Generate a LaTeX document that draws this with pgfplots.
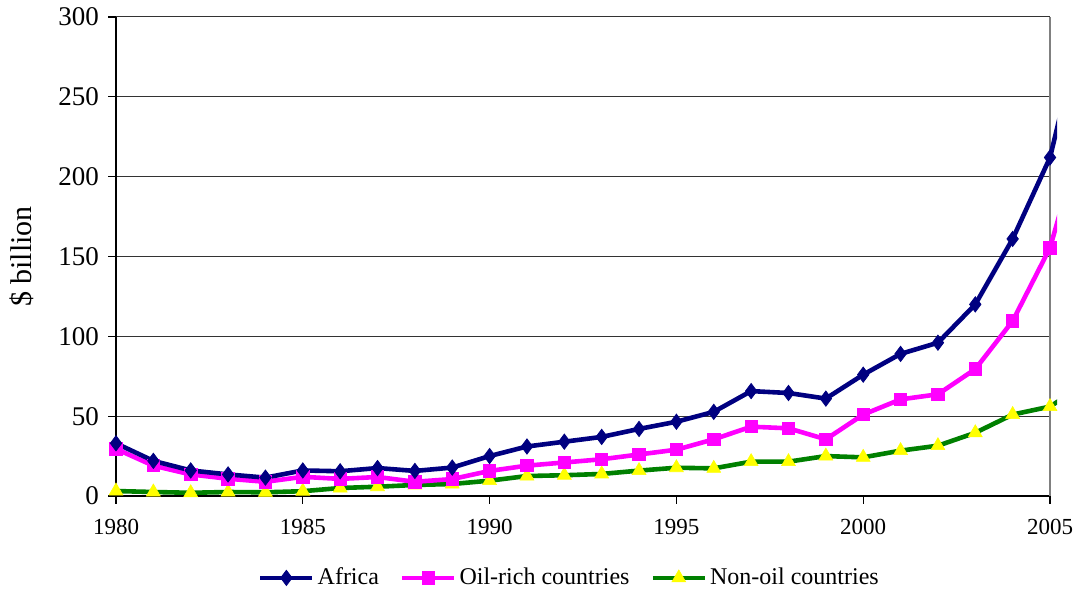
\documentclass[border=0pt]{standalone}
\usepackage{fontspec}
\setmainfont{Liberation Serif}
\usepackage{pgfplots}
\pgfplotsset{compat=1.18}
\usetikzlibrary{calc}
\definecolor{afr}{HTML}{000080}
\definecolor{oil}{HTML}{FF00FF}
\definecolor{non}{HTML}{008000}
\definecolor{tri}{HTML}{FFFF00}
\pgfplotsset{
  afrstyle/.style={color=afr, line width=2.3pt, mark=diamond*, mark size=3.8pt, mark options={solid, line width=0.4pt, fill=afr, draw=afr}},
  oilstyle/.style={color=oil, line width=2.3pt, mark=square*, mark size=3.1pt, mark options={solid, line width=0.4pt, fill=oil, draw=oil}},
  nonstyle/.style={color=non, line width=2.3pt, mark=triangle*, mark size=4pt, mark options={solid, line width=0.3pt, fill=tri, draw=tri}},
}
\pgfplotstableread{
year africa oilrich nonoil
1980 33   29.5 3.1
1981 22   19   2.5
1982 16   13.5 2.0
1983 13.5 10.8 2.5
1984 11.5 8.9  2.3
1985 16   12   3.0
1986 15.5 10.7 5.0
1987 17.5 11.9 5.8
1988 15.7 8.9  6.9
1989 17.8 10.6 7.5
1990 25   15.7 9.6
1991 31   19   12.5
1992 34   21   13
1993 37   23   13.8
1994 42   26   15.9
1995 46.5 29   17.7
1996 52.7 35.5 17.3
1997 65.7 43.4 21.5
1998 64.5 42.4 21.5
1999 61   35.5 25
2000 76   51   24.2
2001 89   60.5 28.4
2002 96   63.7 31.5
2003 120  79.5 39.6
2004 161  109.6 51
2005 212  155.5 56
2006 309  237  71
}\datatable
\begin{document}
\begin{tikzpicture}
\begin{axis}[
  name=main,
  scale only axis,
  width=467pt, height=239.5pt,
  xmin=1980, xmax=2005, ymin=0, ymax=300,
  xtick={1980,1985,...,2005},
  ytick={0,50,...,300},
  /pgf/number format/assume math mode=true,
  x tick label style={/pgf/number format/1000 sep={}, font=\fontsize{11.5}{13}\selectfont, yshift=-4pt},
  y tick label style={font=\fontsize{13.5}{15}\selectfont, xshift=-1pt},
  axis x line*=bottom, axis y line*=left,
  axis line style={-, black, line width=0.7pt},
  ymajorgrids,
  major grid style={color=black!80, line width=0.5pt},
  tick align=outside,
  major tick length=4pt,
  tick style={black, line width=0.6pt},
  extra x ticks={2005},
  extra x tick labels={},
  extra x tick style={grid=major, major grid style={color=gray, line width=1.2pt}},
  ylabel={\$ billion},
  ylabel style={at={(axis description cs:-0.1012,0.5)}, anchor=center, font=\fontsize{15}{17}\selectfont},
  legend columns=3,
  legend style={at={(0.486,-0.171)}, anchor=center, draw=none, fill=none,
    font=\fontsize{12}{14}\selectfont,
    /tikz/every even column/.append style={column sep=9pt},
    nodes={inner sep=1.5pt}},
  legend image code/.code={\draw[mark repeat=2, mark phase=2, #1] plot coordinates {(0pt,0pt) (13pt,0pt) (26pt,0pt)};},
]
\addlegendimage{afrstyle}
\addlegendentry{Africa}
\addlegendimage{oilstyle}
\addlegendentry{Oil-rich countries}
\addlegendimage{nonstyle}
\addlegendentry{Non-oil countries}
\end{axis}
\begin{axis}[
  scale only axis,
  width=489.23pt, height=247.483pt,
  xmin=1979, xmax=2005.19, ymin=-10, ymax=300,
  hide axis,
  at={($(main.south west)+(-18.68pt,-7.983pt)$)}, anchor=south west,
]
\addplot[nonstyle] table[x=year, y=nonoil] {\datatable};
\addplot[oilstyle] table[x=year, y=oilrich] {\datatable};
\addplot[afrstyle] table[x=year, y=africa] {\datatable};
\end{axis}
\pgfresetboundingbox
\useasboundingbox ($(main.south west)+(-58pt,-48pt)$) rectangle ($(main.north east)+(14.5pt,8.5pt)$);
\end{tikzpicture}
\end{document}
